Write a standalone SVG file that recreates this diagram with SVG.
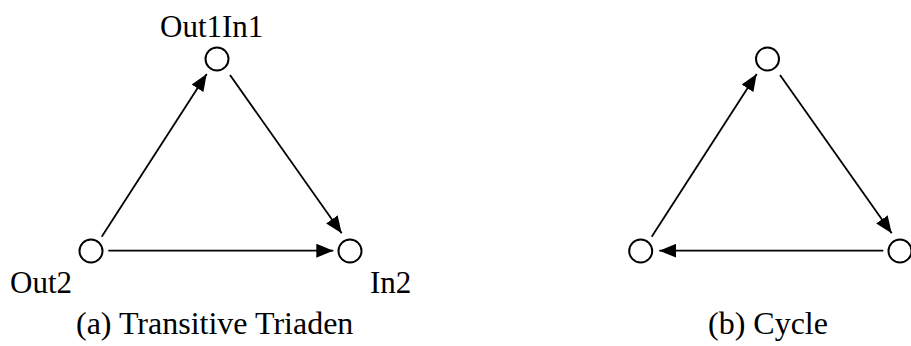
<svg xmlns="http://www.w3.org/2000/svg" width="911" height="346" viewBox="0 0 911 346">
<style>
.node{fill:#fff;stroke:#000;stroke-width:2}
.edge{stroke:#000;stroke-width:1.8;fill:none}
.lbl{font-family:"Liberation Serif","Times New Roman",serif;font-size:31px;fill:#000}
.cap{font-family:"Liberation Serif","Times New Roman",serif;font-size:32px;fill:#000}
</style>
<defs>
<marker id="arr" markerUnits="userSpaceOnUse" markerWidth="18" markerHeight="14" refX="17" refY="7" orient="auto">
<path d="M0,0 L17,7 L0,14 z" fill="#000"/>
</marker>
</defs>
<rect width="911" height="346" fill="#fff"/>
<g id="connectors">
<line class="edge" x1="101.7" y1="236.7" x2="206.7" y2="74" marker-end="url(#arr)"/>
<line class="edge" x1="230" y1="75" x2="341.7" y2="233.3" marker-end="url(#arr)"/>
<line class="edge" x1="108.3" y1="250.7" x2="333.3" y2="250.7" marker-end="url(#arr)"/>
<line class="edge" x1="651.7" y1="236.7" x2="756.7" y2="74" marker-end="url(#arr)"/>
<line class="edge" x1="780" y1="75" x2="891.7" y2="233.3" marker-end="url(#arr)"/>
<line class="edge" x1="883.3" y1="250.7" x2="659.3" y2="250.7" marker-end="url(#arr)"/>
</g>
<g id="a-top"><circle class="node" cx="217" cy="59" r="11.5"/><text class="lbl" x="160" y="36.5">Out1In1</text></g>
<g id="a-left"><circle class="node" cx="91" cy="251" r="11.5"/><text class="lbl" x="10" y="293">Out2</text></g>
<g id="a-right"><circle class="node" cx="350" cy="251" r="11.5"/><text class="lbl" x="370" y="293">In2</text></g>
<g id="b-top"><circle class="node" cx="767.5" cy="59" r="11.5"/></g>
<g id="b-left"><circle class="node" cx="640.7" cy="251" r="11.5"/></g>
<g id="b-right"><circle class="node" cx="900" cy="251" r="11.5"/></g>
<g id="captions">
<text class="cap" x="76" y="334">(a) Transitive Triaden</text>
<text class="cap" x="708" y="334">(b) Cycle</text>
</g>
</svg>
